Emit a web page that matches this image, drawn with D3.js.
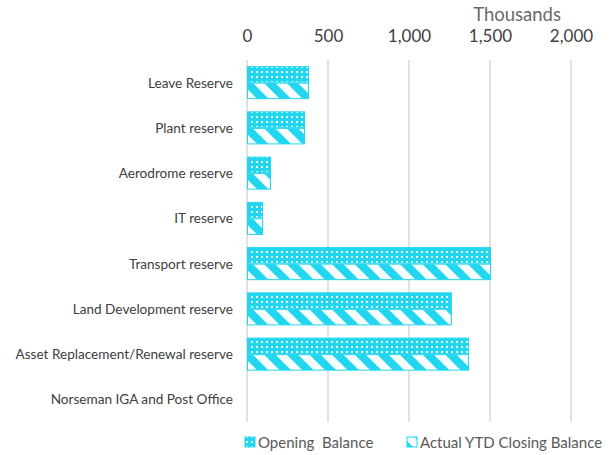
<!DOCTYPE html>
<html>
<head>
<meta charset="utf-8">
<script src="https://cdn.jsdelivr.net/npm/d3@7"></script>
<style>
body{margin:0;background:#fff;}
text{font-family:Lato,"Open Sans",sans-serif;}
</style>
</head>
<body>
<script>
var categories=["Leave Reserve","Plant reserve","Aerodrome reserve","IT reserve","Transport reserve","Land Development reserve","Asset Replacement/Renewal reserve","Norseman IGA and Post Office"];
var openingBalance=[383,358,148,99,1506,1265,1370,0];
var closingBalance=[383,358,148,99,1506,1265,1370,0];
var seriesNames=["Opening  Balance","Actual YTD Closing Balance"];
var xTicks=[0,500,1000,1500,2000];

var width=612,height=455;
var cyan="#22d6ef";
var svg=d3.select("body").append("svg").attr("width",width).attr("height",height);

var defs=svg.append("defs");
// dotted pattern for opening balance
var dots=defs.append("pattern").attr("id","dots").attr("patternUnits","userSpaceOnUse")
	.attr("width",5).attr("height",5);
dots.append("rect").attr("width",5).attr("height",5).attr("fill",cyan);
dots.append("rect").attr("x",1).attr("y",1).attr("width",2).attr("height",2).attr("fill","#eafcff");
// wide diagonal stripes for closing balance
var stripes=defs.append("pattern").attr("id","stripes").attr("patternUnits","userSpaceOnUse")
	.attr("width",16).attr("height",16).attr("patternTransform","rotate(45)");
stripes.append("rect").attr("width",16).attr("height",16).attr("fill",cyan);
stripes.append("rect").attr("width",16).attr("height",8).attr("fill","#f7feff");

var x=d3.scaleLinear().domain([0,2000]).range([247,571]);
var y=d3.scaleBand().domain(categories).range([60,422]).paddingInner(0.27).paddingOuter(0.135);
var ySub=d3.scaleBand().domain([0,1]).range([0,y.bandwidth()]);

// gridlines
svg.append("g").selectAll("line").data(xTicks).enter().append("line")
	.attr("x1",function(d){return x(d);}).attr("x2",function(d){return x(d);})
	.attr("y1",60).attr("y2",422)
	.attr("stroke","#d9d9d9").attr("stroke-width",1.5);

// top axis
var xAxis=d3.axisTop(x).tickValues(xTicks).tickSize(0).tickPadding(0).tickFormat(d3.format(","));
var ax=svg.append("g").attr("transform","translate(0,42)").call(xAxis);
ax.select(".domain").remove();
ax.selectAll("text").attr("font-size",17).attr("fill","#404040").attr("dy",0)
	.style("font-family","Lato,'Open Sans',sans-serif");

svg.append("text").attr("x",561).attr("y",21).attr("text-anchor","end")
	.attr("font-size",18.5).attr("fill","#6a6a6a").text("Thousands");

// category labels
svg.append("g").selectAll("text").data(categories).enter().append("text")
	.attr("x",233).attr("y",function(d){return y(d)+y.bandwidth()/2+5;})
	.attr("text-anchor","end").attr("font-size",13.6).attr("fill","#404040")
	.text(function(d){return d;});

// bars
var series=[openingBalance,closingBalance];
var fills=["url(#dots)","url(#stripes)"];
series.forEach(function(vals,si){
	svg.append("g").selectAll("rect").data(vals).enter().append("rect")
		.filter(function(d){return d>0;})
		.attr("x",x(0)+0.5)
		.attr("y",function(d,i){return y(categories[i])+ySub(si)+0.5;})
		.attr("width",function(d){return x(d)-x(0)-1;})
		.attr("height",ySub.bandwidth()-1)
		.attr("fill",fills[si]).attr("stroke",cyan).attr("stroke-width",1);
});

// legend
var legend=svg.append("g");
var lx=[245,407];
seriesNames.forEach(function(n,i){
	legend.append("rect").attr("x",lx[i]).attr("y",437).attr("width",10).attr("height",10)
		.attr("fill",fills[i]).attr("stroke",cyan);
	legend.append("text").attr("x",lx[i]+13).attr("y",448).attr("font-size",15)
		.attr("fill","#595959").attr("xml:space","preserve").text(n);
});
</script>
</body>
</html>
